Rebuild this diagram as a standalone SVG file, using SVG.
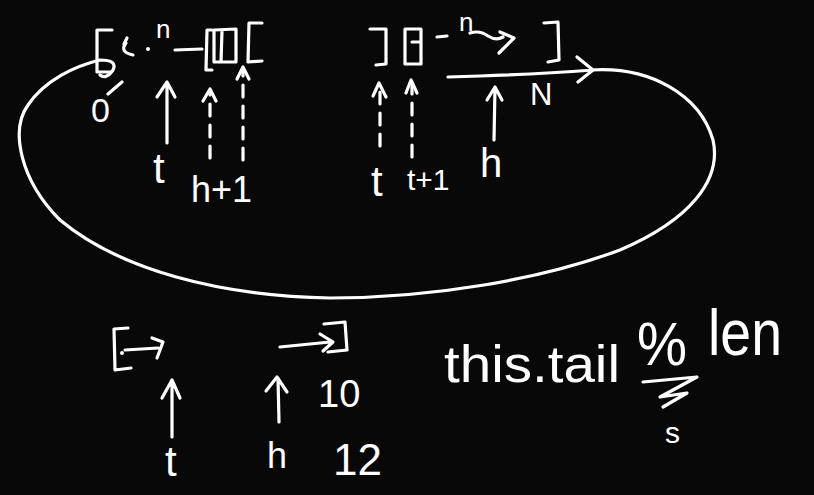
<svg xmlns="http://www.w3.org/2000/svg" width="814" height="495" viewBox="0 0 814 495">
<style>
.s{fill:none;stroke:#fff;stroke-width:3.2;stroke-linecap:round;stroke-linejoin:round}
.d{stroke-dasharray:12 9}
.t{fill:#fff;font-family:"Liberation Sans","DejaVu Sans",sans-serif}
</style>
<rect width="814" height="495" fill="#080808"/>
<g id="array-top-left">
<path class="s" d="M112,30 L97,30 L97,72 L110,72"/>
<path class="s" d="M127,38 L124,44 M126,43 Q119,52 133,55"/>
<circle cx="148" cy="49" r="2" fill="#fff"/>
<text class="t" x="156" y="38" font-size="26">n</text>
<path class="s" d="M175,50 L202,49"/>
<path class="s" d="M212,30 L207,30 L206,70 L212,70"/>
<path class="s" d="M214,30 L236,29 L236,62 L214,62 Z M222,31 L221,62"/>
<path class="s" d="M262,23 L249,23 L248,62 L262,61"/>
<text class="t" x="91" y="122" font-size="34">0</text>
</g>
<g id="array-top-right">
<path class="s" d="M370,29 L386,29 L386,64 L376,65"/>
<path class="s" d="M405,29 L421,29 L421,64 L405,64 Z M412,42 L420,42"/>
<path class="s" d="M437,37 L447,36"/>
<text class="t" x="459" y="31" font-size="26">n</text>
<path class="s" d="M470,33 Q480,30 488,36 Q496,41 503,37 M500,32 L514,38 L499,53"/>
<path class="s" d="M544,23 L558,22 L559,60 L548,62"/>
<text class="t" x="530" y="105" font-size="31">N</text>
</g>
<g id="labels-top">
<text class="t" x="153" y="183" font-size="42">t</text>
<text class="t" x="191" y="202" font-size="36">h+1</text>
<text class="t" x="371" y="196" font-size="42">t</text>
<text class="t" x="407" y="190" font-size="30">t+1</text>
<text class="t" x="480" y="177" font-size="40">h</text>
</g>
<g id="bottom-left">
<path class="s" d="M128,328 L114,329 L115,370 L131,368"/>
<circle cx="122" cy="353" r="2" fill="#fff"/>
<path class="s" d="M125,350 L158,348 M152,338 L163,342 L157,358"/>
<text class="t" x="165" y="476" font-size="42">t</text>
</g>
<g id="bottom-mid">
<path class="s" d="M280,347 L330,342 M320,334 L333,342 L323,351"/>
<path class="s" d="M324,324 L345,322 L347,350 L328,352"/>
<text class="t" x="267" y="468" font-size="36">h</text>
<text class="t" x="318" y="407" font-size="38">10</text>
<text class="t" x="333" y="475" font-size="44">12</text>
</g>
<g id="formula">
<text class="t" x="444" y="382" font-size="52" textLength="176" lengthAdjust="spacingAndGlyphs">this.tail</text>
<text class="t" x="637" y="365" font-size="62" textLength="50" lengthAdjust="spacingAndGlyphs">%</text>
<text class="t" x="708" y="355" font-size="64" textLength="74" lengthAdjust="spacingAndGlyphs">len</text>
<path class="s" d="M643,382 L697,377 L660,397 L687,393 L663,407"/>
<text class="t" x="665" y="443" font-size="30">s</text>
</g>
<g id="connectors">
<path class="s" d="M448,77 L480,76 Q540,74 593,70 M577,57 L593,70 L578,82"/>
<path class="s" d="M591,70 C650,66 700,95 713,140 C722,180 690,220 620,250 C540,280 430,298 330,298 C220,296 120,270 60,220 C20,180 10,130 28,105 C45,80 75,66 100,60 Q118,60 113,70 Q106,80 100,75 M122,82 L108,94"/>
<path class="s" d="M167,143 L167,82 M157,97 L167,82 L175,97"/>
<path class="s d" d="M210,158 L210,90"/><path class="s" d="M203,101 L210,89 L216,101"/>
<path class="s d" d="M243,160 L243,69"/><path class="s" d="M237,79 L243,67 L249,79"/>
<path class="s d" d="M380,146 L380,85"/><path class="s" d="M373,96 L379,83 L386,97"/>
<path class="s d" d="M412,157 L412,83"/><path class="s" d="M406,93 L411,80 L417,93"/>
<path class="s" d="M494,140 L495,87 M487,100 L495,87 L502,100"/>
<path class="s" d="M172,437 L172,381 M162,398 L172,380 L180,398"/>
<path class="s" d="M279,422 L278,378 M266,391 L277,377 L287,392"/>
</g>
</svg>
